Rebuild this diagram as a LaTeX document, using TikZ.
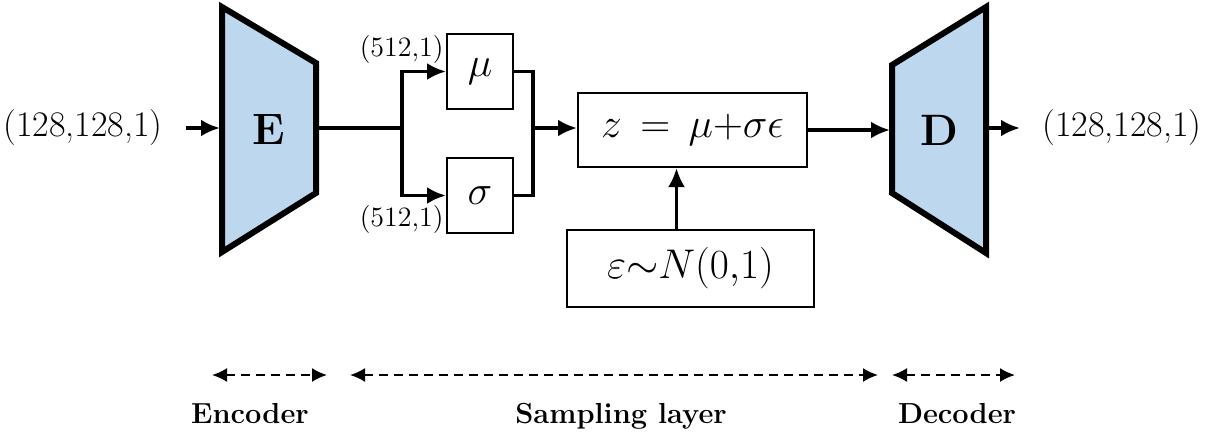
\documentclass[tikz,border=0pt]{standalone}
\usetikzlibrary{arrows.meta,positioning}
\definecolor{coderblue}{RGB}{189,215,238}
\tikzset{
  box/.style={rectangle, draw, line width=1pt, inner sep=0pt, font=\fontsize{21}{25}\selectfont},
  conn/.style={line width=1.8pt},
  arr/.style={line width=1.8pt, -{Latex[length=9.5pt,width=8.5pt]}},
  coder/.style={draw, line width=3pt, fill=coderblue, line join=miter},
  letter/.style={font=\fontsize{22}{26}\selectfont\bfseries},
  shapelbl/.style={font=\fontsize{18}{21}\selectfont, inner sep=0pt},
  dimlbl/.style={font=\fontsize{14}{16}\selectfont, inner sep=0pt},
  spanarrow/.style={line width=1pt, dash pattern=on 4.5pt off 3pt, {Latex[length=7.5pt,width=7pt]}-{Latex[length=7.5pt,width=7pt]}},
  part/.style={font=\fontsize{14.5}{17}\selectfont\bfseries, anchor=base},
}
\begin{document}
\begin{tikzpicture}[x=0.5pt, y=-0.5pt]
  \useasboundingbox (0,0) rectangle (1218,434);

  % encoder and decoder
  \draw[coder] (222,7) -- (316,63) -- (316,193) -- (222,252) -- cycle;
  \draw[coder] (892,65) -- (986,7) -- (986,253) -- (892,193) -- cycle;
  \node[letter] (enc) at (269,130) {E};
  \node[letter] (dec) at (939,130) {D};
  \coordinate (encIn) at (220,128);
  \coordinate (encOut) at (316,128);
  \coordinate (decIn) at (890,128);
  \coordinate (decOut) at (986,128);
  \coordinate (split) at (402,128);
  \coordinate (join) at (533,128);

  \node[shapelbl] (input) at (83,128) {(128,128,1)};
  \node[shapelbl, anchor=west] (output) at (1042,128) {(128,128,1)};

  % sampling layer
  \node[box, minimum width=33pt, minimum height=37.5pt] (mu) at (480,71.5) {$\mu$};
  \node[box, minimum width=33pt, minimum height=37.5pt] (sig) at (480,195.5) {$\sigma$};
  \node[dimlbl, anchor=east] (muDim) at (444,50) {(512,1)};
  \node[dimlbl, anchor=east] (sigDim) at (444,220) {(512,1)};
  \node[box, minimum width=114.5pt, minimum height=37pt] (z) at (692.5,130) {$z\,=\,\mu{+}\sigma\epsilon$};
  \node[box, minimum width=123.5pt, minimum height=38.5pt, font=\fontsize{22}{26}\selectfont] (eps) at (690.5,268.5) {$\varepsilon{\sim}N(0{,}1)$};

  \draw[arr, shorten <=11.5pt] (input) -- (encIn);
  \draw[conn] (encOut) -- (split);
  \draw[arr] (split) |- (mu.west);
  \draw[arr] (split) |- (sig.west);
  \draw[conn] (mu.east) -| (join) |- (sig.east);
  \draw[arr] (join) -- (join -| z.west);
  \draw[arr] ([xshift=-7pt]eps.north) -- ([xshift=-7pt]eps.north |- z.south);
  \draw[arr] (z.east) -- (z.east -| decIn);
  \draw[arr, shorten >=11pt] (decOut) -- (output.west);

  % parts
  \coordinate (encA) at (212,375);
  \coordinate (encB) at (327,375);
  \coordinate (smpA) at (350,375);
  \coordinate (smpB) at (878,375);
  \coordinate (decA) at (892,375);
  \coordinate (decB) at (1015,375);
  \draw[spanarrow] (encA) -- (encB);
  \draw[spanarrow] (smpA) -- (smpB);
  \draw[spanarrow] (decA) -- (decB);
  \node[part] (encLbl) at (250,423) {Encoder};
  \node[part] (smpLbl) at (621,423) {Sampling layer};
  \node[part] (decLbl) at (957,423) {Decoder};
\end{tikzpicture}
\end{document}
